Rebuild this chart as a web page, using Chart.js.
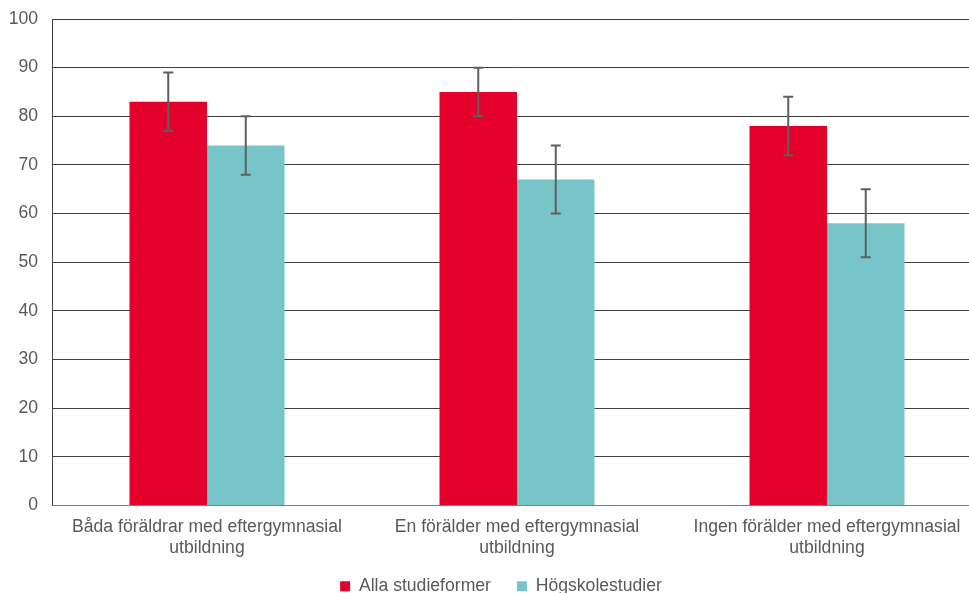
<!DOCTYPE html>
<html>
<head>
  <title>Föräldrarnas utbildning</title>
  <script src="https://cdn.jsdelivr.net/npm/chart.js"></script>
  <style>
    html, body { margin: 0; padding: 0; background: #ffffff; overflow: hidden; }
    #wrap { width: 969px; height: 593px; overflow: hidden; }
    #inner { width: 990px; height: 593px; }
  </style>
</head>
<body>
  <div id="wrap"><div id="inner"><canvas id="grafico"></canvas></div></div>

  <script>
    // data
    var kategorier = [
      ['Båda föräldrar med eftergymnasial', 'utbildning'],
      ['En förälder med eftergymnasial', 'utbildning'],
      ['Ingen förälder med eftergymnasial', 'utbildning']
    ];
    var allaVarden = [83, 85, 78];
    var allaLag = [77, 80, 72];
    var allaHog = [89, 90, 84];
    var hogskolaVarden = [74, 67, 58];
    var hogskolaLag = [68, 60, 51];
    var hogskolaHog = [80, 74, 65];
    var yTicks = [0, 10, 20, 30, 40, 50, 60, 70, 80, 90, 100];

    var textColor = '#595959';
    var fontSize = 17.6;

    // error bars drawn from the y scale
    var felstaplar = {
      id: 'felstaplar',
      afterDatasetsDraw: function (chart) {
        var ctx = chart.ctx;
        var y = chart.scales.y;
        chart.data.datasets.forEach(function (ds, i) {
          var meta = chart.getDatasetMeta(i);
          meta.data.forEach(function (bar, j) {
            var top = y.getPixelForValue(ds.high[j]);
            var bot = y.getPixelForValue(ds.low[j]);
            ctx.save();
            ctx.strokeStyle = '#5f5f5f';
            ctx.lineWidth = 2;
            ctx.beginPath();
            ctx.moveTo(bar.x, top);
            ctx.lineTo(bar.x, bot);
            ctx.moveTo(bar.x - 5, top);
            ctx.lineTo(bar.x + 5, top);
            ctx.moveTo(bar.x - 5, bot);
            ctx.lineTo(bar.x + 5, bot);
            ctx.stroke();
            ctx.restore();
          });
        });
      }
    };

    // nudge the legend a bit (it sits under the visible part, not the whole plot)
    var flyttaLegend = {
      id: 'flyttaLegend',
      afterLayout: function (chart) {
        var l = chart.legend;
        l.left += 10; l.right += 10;
        l.top -= 12; l.bottom -= 12;
      }
    };

    var ctx = document.getElementById('grafico').getContext('2d');
    new Chart(ctx, {
      type: 'bar',
      data: {
        labels: kategorier,
        datasets: [{
          label: 'Alla studieformer',
          data: allaVarden,
          low: allaLag,
          high: allaHog,
          backgroundColor: '#e3002b'
        }, {
          label: 'Högskolestudier',
          data: hogskolaVarden,
          low: hogskolaLag,
          high: hogskolaHog,
          backgroundColor: '#78c5c9'
        }]
      },
      options: {
        responsive: true,
        maintainAspectRatio: false,
        animation: false,
        layout: { padding: { top: 19, right: 8, left: 0, bottom: -24 } },
        datasets: {
          bar: { categoryPercentage: 0.5, barPercentage: 1 }
        },
        scales: {
          x: {
            afterFit: function (s) { s.height = 58; },
            grid: { display: false, drawTicks: false },
            border: { color: '#7f7f7f', width: 1 },
            ticks: {
              color: textColor,
              font: { family: 'Liberation Sans', size: fontSize },
              padding: 11,
              maxRotation: 0
            }
          },
          y: {
            min: 0,
            max: 100,
            afterFit: function (s) {
              s.width = 52;
              s.paddingTop = 0;
              s.paddingBottom = 0;
            },
            afterBuildTicks: function (s) {
              s.ticks = yTicks.map(function (v) { return { value: v }; });
            },
            grid: { color: '#404040', drawTicks: false },
            border: { color: '#404040', width: 1 },
            ticks: {
              color: textColor,
              font: { family: 'Liberation Sans', size: fontSize },
              padding: 14
            }
          }
        },
        plugins: {
          legend: {
            position: 'bottom',
            labels: {
              color: textColor,
              font: { family: 'Liberation Sans', size: fontSize },
              boxWidth: 10,
              boxHeight: 10,
              padding: 26
            }
          },
          tooltip: { enabled: false }
        }
      },
      plugins: [felstaplar, flyttaLegend]
    });
  </script>
</body>
</html>
